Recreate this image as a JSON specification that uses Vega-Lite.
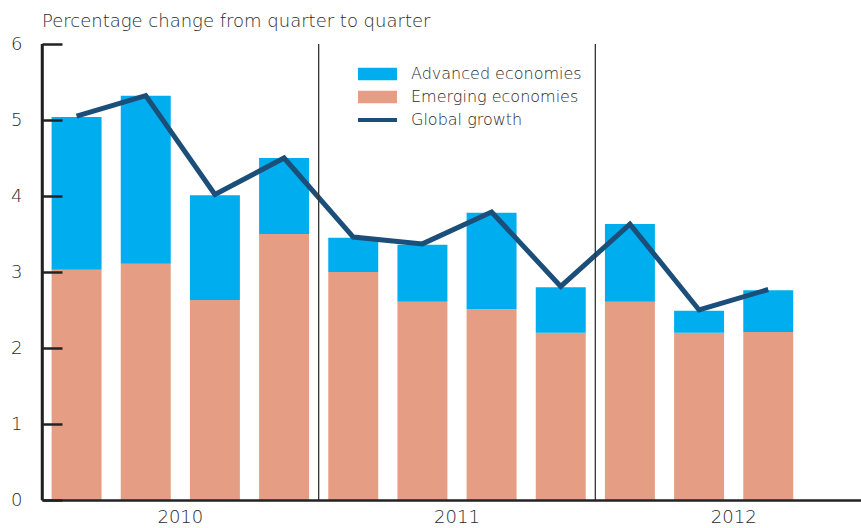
{
  "$schema": "https://vega.github.io/schema/vega-lite/v6.json",
  "autosize": {"type": "none"},
  "padding": {"left": 42, "top": 44, "right": 0, "bottom": 28},
  "width": 819,
  "height": 456,
  "title": {
    "text": "Percentage change from quarter to quarter",
    "anchor": "start",
    "frame": "group",
    "baseline": "alphabetic",
    "offset": 16,
    "dy": 26,
    "font": "DejaVu Sans",
    "fontSize": 18,
    "fontWeight": 300,
    "color": "#2a2a2a"
  },
  "config": {
    "view": {"stroke": null},
    "font": "DejaVu Sans",
    "axis": {"labelFont": "DejaVu Sans", "labelColor": "#2a2a2a", "labelFontWeight": 300},
    "legend": {"labelFont": "DejaVu Sans", "labelFontWeight": 300}
  },
  "data": {
    "values": [
      {"quarter": "2010 Q1", "series": "Emerging economies", "value": 3.03},
      {"quarter": "2010 Q1", "series": "Advanced economies", "value": 2.01},
      {"quarter": "2010 Q1", "series": "Global growth", "value": 5.05},
      {"quarter": "2010 Q2", "series": "Emerging economies", "value": 3.11},
      {"quarter": "2010 Q2", "series": "Advanced economies", "value": 2.21},
      {"quarter": "2010 Q2", "series": "Global growth", "value": 5.32},
      {"quarter": "2010 Q3", "series": "Emerging economies", "value": 2.63},
      {"quarter": "2010 Q3", "series": "Advanced economies", "value": 1.38},
      {"quarter": "2010 Q3", "series": "Global growth", "value": 4.02},
      {"quarter": "2010 Q4", "series": "Emerging economies", "value": 3.50},
      {"quarter": "2010 Q4", "series": "Advanced economies", "value": 1.00},
      {"quarter": "2010 Q4", "series": "Global growth", "value": 4.50},
      {"quarter": "2011 Q1", "series": "Emerging economies", "value": 3.00},
      {"quarter": "2011 Q1", "series": "Advanced economies", "value": 0.45},
      {"quarter": "2011 Q1", "series": "Global growth", "value": 3.46},
      {"quarter": "2011 Q2", "series": "Emerging economies", "value": 2.61},
      {"quarter": "2011 Q2", "series": "Advanced economies", "value": 0.75},
      {"quarter": "2011 Q2", "series": "Global growth", "value": 3.37},
      {"quarter": "2011 Q3", "series": "Emerging economies", "value": 2.51},
      {"quarter": "2011 Q3", "series": "Advanced economies", "value": 1.27},
      {"quarter": "2011 Q3", "series": "Global growth", "value": 3.79},
      {"quarter": "2011 Q4", "series": "Emerging economies", "value": 2.20},
      {"quarter": "2011 Q4", "series": "Advanced economies", "value": 0.60},
      {"quarter": "2011 Q4", "series": "Global growth", "value": 2.81},
      {"quarter": "2012 Q1", "series": "Emerging economies", "value": 2.61},
      {"quarter": "2012 Q1", "series": "Advanced economies", "value": 1.02},
      {"quarter": "2012 Q1", "series": "Global growth", "value": 3.63},
      {"quarter": "2012 Q2", "series": "Emerging economies", "value": 2.20},
      {"quarter": "2012 Q2", "series": "Advanced economies", "value": 0.29},
      {"quarter": "2012 Q2", "series": "Global growth", "value": 2.50},
      {"quarter": "2012 Q3", "series": "Emerging economies", "value": 2.21},
      {"quarter": "2012 Q3", "series": "Advanced economies", "value": 0.55},
      {"quarter": "2012 Q3", "series": "Global growth", "value": 2.77}
    ]
  },
  "encoding": {
    "x": {
      "field": "quarter",
      "type": "nominal",
      "scale": {
        "domain": ["2010 Q1", "2010 Q2", "2010 Q3", "2010 Q4", "2011 Q1", "2011 Q2", "2011 Q3", "2011 Q4", "2012 Q1", "2012 Q2", "2012 Q3", "2012 Q4"],
        "range": [0, 830],
        "paddingInner": 0,
        "paddingOuter": 0
      },
      "axis": {
        "title": null,
        "ticks": false,
        "zindex": 1,
        "domainColor": "#222222",
        "domainWidth": 2.5,
        "labelAngle": 0,
        "labelOverlap": false,
        "labelFontSize": 18,
        "labelPadding": 8,
        "labelOffset": 34.6,
        "labelExpr": "indexof(datum.value, 'Q2') >= 0 ? slice(datum.value, 0, 4) : ''"
      }
    }
  },
  "layer": [
    {
      "transform": [{"filter": "datum.series !== 'Global growth'"}],
      "mark": {"type": "bar", "width": {"band": 0.7225}},
      "encoding": {
        "y": {
          "field": "value",
          "type": "quantitative",
          "stack": "zero",
          "scale": {"domain": [0, 6], "nice": false},
          "axis": {
            "title": null,
            "values": [0, 1, 2, 3, 4, 5, 6],
            "format": "d",
            "grid": false,
            "zindex": 1,
            "domainColor": "#222222",
            "domainWidth": 2.5,
            "tickColor": "#222222",
            "tickWidth": 2.5,
            "tickSize": -20,
            "labelPadding": 40,
            "labelFontSize": 18
          }
        },
        "color": {
          "field": "series",
          "type": "nominal",
          "scale": {
            "domain": ["Advanced economies", "Emerging economies", "Global growth"],
            "range": ["#00AEEF", "#E59E84", "#1B4F7A"]
          },
          "legend": {
            "title": null,
            "orient": "none",
            "legendX": 325.5,
            "legendY": 20,
            "padding": 0,
            "labelFontSize": 16,
            "labelColor": "#2a2a2a",
            "labelOffset": 23.5,
            "labelLimit": 0,
            "rowPadding": 5,
            "symbolSize": 400,
            "symbolType": "M-1.95,-0.63H1.95V0.63H-1.95Z",
            "symbolStrokeWidth": 0,
            "encode": {
              "symbols": {
                "update": {
                  "shape": {"signal": "datum.label === 'Global growth' ? 'M-1.95,-0.2H1.95V0.2H-1.95Z' : 'M-1.95,-0.63H1.95V0.63H-1.95Z'"},
                  "fill": {"signal": "scale('color', datum.value)"},
                  "stroke": {"value": "transparent"},
                  "opacity": {"value": 1}
                }
              }
            }
          }
        },
        "order": {"field": "series", "sort": "descending"}
      }
    },
    {
      "transform": [{"filter": "datum.series === 'Global growth'"}],
      "mark": {"type": "line", "strokeWidth": 5, "strokeCap": "butt", "strokeJoin": "miter"},
      "encoding": {
        "y": {"field": "value", "type": "quantitative"},
        "color": {"field": "series", "type": "nominal"}
      }
    },
    {
      "data": {"values": [{"quarter": "2011 Q1"}, {"quarter": "2012 Q1"}]},
      "mark": {"type": "rule", "color": "#333333", "strokeWidth": 1.3},
      "encoding": {
        "x": {"field": "quarter", "type": "nominal", "bandPosition": 0}
      }
    },
    {
      "data": {"values": [{"top": 6}]},
      "mark": {"type": "rule", "color": "#222222", "strokeWidth": 2.5},
      "encoding": {
        "y": {"field": "top", "type": "quantitative"}
      }
    }
  ]
}
